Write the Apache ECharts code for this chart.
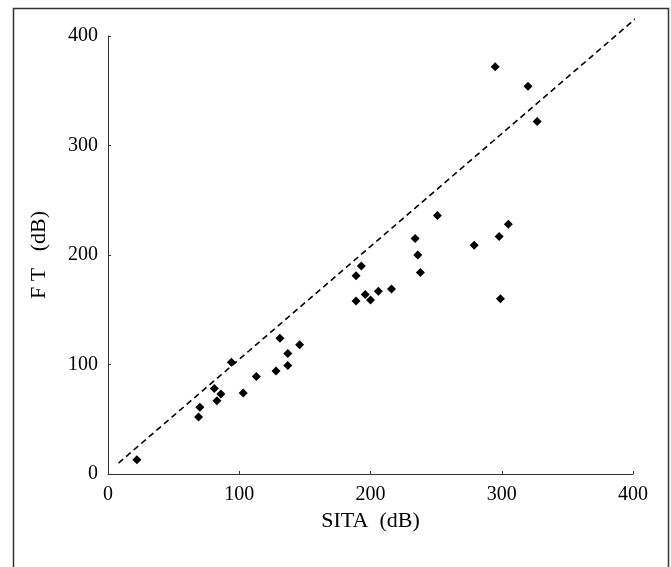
<!DOCTYPE html>
<html><head><meta charset="utf-8">
<script src="https://cdn.jsdelivr.net/npm/echarts@6/dist/echarts.min.js"></script>
<style>html,body{margin:0;padding:0;background:#fff}#c{width:671px;height:567px}</style>
</head><body><div id="c"></div>
<script>
var xTicks = [0, 100, 200, 300, 400];
var yTicks = [0, 100, 200, 300, 400];
var sitaValues = [22, 69, 70, 81, 86, 83, 103, 94, 113, 128, 131, 137, 137, 146, 189, 193, 189, 196, 200, 206, 216, 234, 236, 238, 251, 279, 298, 305, 299, 295, 320, 327];
var ftValues = [13, 52, 61, 78, 73, 67, 74, 102, 89, 94, 124, 110, 99, 118, 181, 190, 158, 164, 159, 167, 169, 215, 200, 184, 236, 209, 217, 228, 160, 372, 354, 322];
var refLineX = [8, 406];
var refLineY = [10, 420];

var pts = sitaValues.map(function (v, i) { return [v, ftValues[i]]; });
var line = refLineX.map(function (v, i) { return [v, refLineY[i]]; });
var font = '"Liberation Serif", "DejaVu Serif", serif';

var chart = echarts.init(document.getElementById('c'));
chart.setOption({
  animation: false,
  backgroundColor: '#fff',
  graphic: [{
    type: 'rect', shape: { x: 13.5, y: 8.5, width: 655, height: 580 },
    style: { fill: 'none', stroke: '#333', lineWidth: 1.5 }, silent: true
  }],
  grid: { left: 108, right: 38, top: 36, bottom: 93 },
  xAxis: {
    type: 'value', min: 0, max: 400, interval: 100,
    name: 'SITA  (dB)', nameLocation: 'middle', nameGap: 34,
    nameTextStyle: { fontFamily: font, fontSize: 22, color: '#000' },
    axisLine: { show: true, lineStyle: { color: '#333', width: 1 } },
    axisTick: { show: true, inside: true, length: 3, lineStyle: { color: '#333' } },
    axisLabel: { fontFamily: font, fontSize: 20, color: '#000', margin: 11,
      formatter: function (v) { return xTicks.indexOf(v) >= 0 ? String(v) : ''; } },
    splitLine: { show: false }
  },
  yAxis: {
    type: 'value', min: 0, max: 400, interval: 100,
    name: 'F T   (dB)', nameLocation: 'middle', nameGap: 58, nameRotate: 90,
    nameTextStyle: { fontFamily: font, fontSize: 22, color: '#000' },
    axisLine: { show: true, lineStyle: { color: '#333', width: 1 } },
    axisTick: { show: true, inside: true, length: 3, lineStyle: { color: '#333' } },
    axisLabel: { fontFamily: font, fontSize: 20, color: '#000', margin: 10,
      formatter: function (v) { return yTicks.indexOf(v) >= 0 ? String(v) : ''; } },
    splitLine: { show: false }
  },
  series: [{
    type: 'line', data: line, symbol: 'none', silent: true, clip: false,
    lineStyle: { color: '#000', width: 1.6, type: [6, 4] }
  }, {
    type: 'scatter', data: pts, symbol: 'diamond', symbolSize: 9,
    itemStyle: { color: '#000', opacity: 1 }
  }]
});
</script></body></html>
